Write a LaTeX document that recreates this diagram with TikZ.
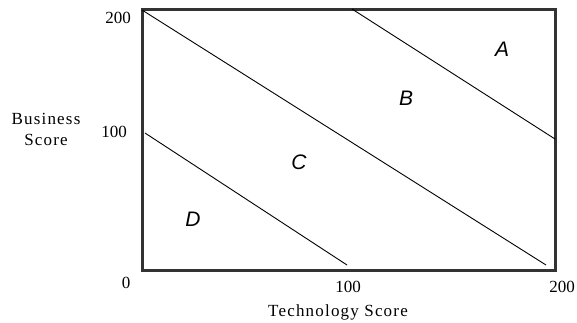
\documentclass[tikz,border=0pt]{standalone}
\usepackage{fontspec}
\setmainfont{Liberation Serif}
\setsansfont{Liberation Sans}
\usetikzlibrary{positioning}

\begin{document}
\begin{tikzpicture}[x=1pt,y=-1pt,
 frame/.style={draw=black!80,line width=3pt},
 band/.style={draw=black,line width=0.9pt},
 tick/.style={font=\fontsize{17}{17}\selectfont,inner sep=0pt},
 axis/.style={font=\fontsize{17}{21}\selectfont\addfontfeature{LetterSpace=7},
  align=center,inner sep=0pt},
 zone/.style={font=\sffamily\itshape\fontsize{21}{21}\selectfont,inner sep=0pt}]
\useasboundingbox (0,0) rectangle (577,322);
% chart frame
\draw[frame] (142,9) rectangle (555,270);
% band boundaries
\coordinate (ab1) at (352,9);   \coordinate (ab2) at (555,139);
\coordinate (bc1) at (142,10);  \coordinate (bc2) at (546,265);
\coordinate (cd1) at (145,133); \coordinate (cd2) at (347,265);
\draw[band] (ab1) -- (ab2);
\draw[band] (bc1) -- (bc2);
\draw[band] (cd1) -- (cd2);
% zones
\node[zone] (zA) at (502,49) {A};
\node[zone] (zB) at (406,98) {B};
\node[zone] (zC) at (299,162) {C};
\node[zone] (zD) at (193,219) {D};
% ticks and axis titles
\node[tick] (y200) at (118,18) {200};
\node[tick] (y100) at (114,132) {100};
\node[tick] (y0) at (126,283) {0};
\node[tick] (x100) at (348,287) {100};
\node[tick] (x200) at (562,287) {200};
\node[axis] (ytitle) at (46,129) {Business\\Score};
\node[axis] (xtitle) at (338,312) {Technology Score};
\end{tikzpicture}
\end{document}
